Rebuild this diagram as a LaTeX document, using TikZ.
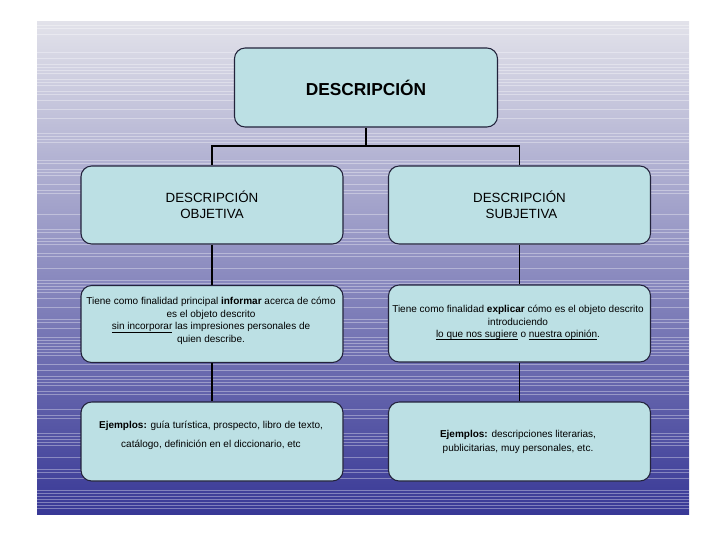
\documentclass[tikz,border=0pt]{standalone}
\usepackage{fontspec}
\setmainfont{Liberation Sans}
\definecolor{boxfill}{RGB}{188,224,228}
\definecolor{boxline}{RGB}{35,35,60}
\definecolor{bgtop}{RGB}{226,226,234}
\definecolor{bgmid}{RGB}{146,144,196}
\definecolor{bgbot}{RGB}{56,56,150}
\newcommand{\ulsm}[1]{\underline{\smash{#1}}}
\tikzset{
  box/.style={draw=boxline, line width=0.8pt, fill=boxfill, rounded corners=8,
    minimum width=262*0.75pt, minimum height=78*0.75pt, align=center, inner sep=0pt},
  conn/.style={draw=black, line width=1.3pt},
  smalltxt/.style={font=\fontsize{7.5}{9.4}\selectfont, align=center, inner sep=0pt},
  midtxt/.style={font=\fontsize{10}{12}\selectfont, align=center, inner sep=0pt}
}
\begin{document}
\begin{tikzpicture}[x=0.75pt,y=-0.75pt]
\useasboundingbox (0,0) rectangle (720,540);
\fill[white] (0,0) rectangle (720,540);
% slide background
\shade[top color=bgtop, middle color=bgmid, bottom color=bgbot] (37,21) rectangle (689,514);
\pgfmathsetseed{7}
\foreach \i in {0,...,162} {
  \pgfmathsetmacro\yy{22+\i*3}
  \pgfmathsetmacro\op{rnd<0.45 ? 0.35 : 0}
  \draw[white, opacity=\op, line width=0.6pt] (37,\yy) -- (689,\yy);
}
% boxes
\node[box, minimum width=263*0.75pt, minimum height=79*0.75pt] (top) at (366,87.5)
  {\fontsize{13}{15}\selectfont\bfseries DESCRIPCIÓN};
\node[box, midtxt] (oL) at (212,205) {DESCRIPCIÓN\\OBJETIVA};
\node[box, midtxt] (oR) at (519.5,205) {DESCRIPCIÓN\\\hspace*{3pt}SUBJETIVA};
\node[box, minimum height=77*0.75pt] (fL) at (212,324) {};
\node[box, minimum height=77*0.75pt] (fR) at (519.5,323.5) {};
\node[box, minimum height=79*0.75pt] (eL) at (212,441.5) {};
\node[box, minimum height=79*0.75pt] (eR) at (519.5,441.5) {};
% texts
\node[smalltxt] (fLt) at (211,321) {Tiene como finalidad principal \textbf{informar} acerca de cómo\\
  es el objeto descrito\\
  \ulsm{sin incorporar} las impresiones personales de\\
  quien describe.};
\node[smalltxt] (fRt) at (518,323) {Tiene como finalidad \textbf{explicar} cómo es el objeto descrito\\
  introduciendo\\
  \ulsm{lo que nos sugiere} o \ulsm{nuestra opinión}.};
\node[smalltxt, font=\fontsize{7.5}{14.2}\selectfont] (eLt) at (211,435.5) {\textbf{Ejemplos:} guía turística, prospecto, libro de texto,\\
  catálogo, definición en el diccionario, etc};
\node[smalltxt, font=\fontsize{7.5}{10.5}\selectfont] (eRt) at (518,442) {\textbf{Ejemplos:} descripciones literarias,\\
  publicitarias, muy personales, etc.};
% connectors
\coordinate (j) at (366,146);
\draw[conn] (top.south) -- (top.south |- j) -| (oL.north);
\draw[conn] (top.south |- j) -| (oR.north);
\draw[conn] (oL.south) -- (fL.north);
\draw[conn] (oR.south) -- (fR.north);
\draw[conn] (fL.south) -- (eL.north);
\draw[conn] (fR.south) -- (eR.north);
\end{tikzpicture}
\end{document}
